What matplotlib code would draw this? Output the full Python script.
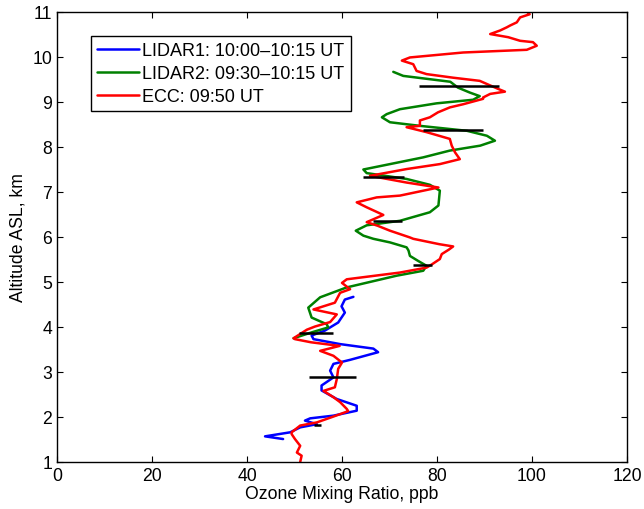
import matplotlib
matplotlib.use('Agg')
import matplotlib.pyplot as plt

plt.rcParams['font.family'] = ['Liberation Sans', 'DejaVu Sans']
plt.rcParams['font.size'] = 12.7

# ECC ozonesonde profile (altitude km, ozone ppb)
ecc_alt = [1.00, 1.14, 1.21, 1.36, 1.51, 1.62, 1.66, 1.81, 1.88, 2.01, 2.13, 2.18,
           2.33, 2.44, 2.58, 2.66, 2.84, 3.07, 3.21, 3.36, 3.47, 3.58, 3.66, 3.73,
           3.75, 3.94, 4.01, 4.11, 4.28, 4.39, 4.54, 4.76, 4.84, 4.98, 5.06, 5.21,
           5.32, 5.39, 5.51, 5.62, 5.72, 5.79, 5.84, 5.96, 5.99, 6.14, 6.25, 6.33,
           6.49, 6.66, 6.77, 6.88, 6.92, 7.10, 7.21, 7.36, 7.51, 7.62, 7.73, 7.88,
           8.03, 8.18, 8.33, 8.44, 8.47, 8.59, 8.66, 8.77, 8.88, 8.95, 9.07, 9.10,
           9.18, 9.23, 9.29, 9.40, 9.47, 9.54, 9.62, 9.69, 9.84, 9.92, 9.99, 10.10,
           10.16, 10.25, 10.33, 10.36, 10.44, 10.51, 10.59, 10.66, 10.70, 10.77,
           10.88, 10.95, 11.00]
ecc_o3 = [51.2, 51.5, 50.5, 51.2, 50.1, 49.4, 49.4, 51.2, 54.7, 58.2, 61.3, 61.0,
          59.6, 58.2, 56.1, 58.5, 58.9, 59.2, 60.0, 58.2, 55.4, 59.5, 53.5, 50.1,
          49.8, 52.6, 54.3, 57.5, 58.9, 54.0, 58.5, 59.6, 61.7, 60.0, 61.0, 72.2,
          77.8, 78.9, 80.6, 81.0, 82.5, 83.4, 80.5, 75.0, 74.3, 70.1, 67.5, 65.2,
          68.7, 65.2, 63.1, 67.3, 72.2, 80.3, 73.6, 65.9, 73.6, 80.6, 84.8, 83.8,
          83.1, 82.7, 77.8, 73.6, 76.4, 76.4, 78.5, 80.2, 82.7, 85.5, 89.7, 89.7,
          91.2, 94.3, 92.9, 90.5, 89.0, 83.4, 77.8, 75.7, 75.0, 72.6, 74.3, 85.5,
          98.9, 101.0, 100.2, 97.5, 95.0, 91.2, 93.3, 94.7, 95.4, 96.8,
          97.5, 99.5, 99.0]

# LIDAR2 profile
l2_alt = [3.75, 3.89, 3.99, 4.06, 4.21, 4.43, 4.66, 4.88, 5.14, 5.25, 5.36, 5.47,
          5.58, 5.70, 5.77, 5.88, 5.96, 6.03, 6.14, 6.26, 6.36, 6.55, 6.70, 7.03,
          7.16, 7.29, 7.42, 7.50, 7.62, 7.77, 7.92, 8.03, 8.14, 8.25, 8.36, 8.47,
          8.55, 8.66, 8.73, 8.84, 8.97, 9.05, 9.13, 9.21, 9.32, 9.45, 9.58, 9.67]
l2_o3 = [49.8, 53.9, 57.1, 56.8, 53.6, 52.9, 55.4, 61.0, 71.5, 77.1, 77.8, 76.0,
         74.3, 74.0, 73.6, 70.1, 66.6, 64.5, 62.9, 65.2, 72.2, 78.5, 80.3, 80.6,
         78.5, 73.6, 65.2, 64.5, 70.1, 77.1, 82.7, 89.1, 92.2, 90.5, 86.3, 76.4,
         70.1, 68.4, 69.4, 72.2, 79.9, 87.6, 89.0, 86.9, 84.4, 82.8, 72.9, 70.8]

# LIDAR1 profile
l1_alt = [1.51, 1.57, 1.66, 1.77, 1.84, 1.92, 1.97, 2.03, 2.14, 2.25, 2.40, 2.59,
          2.70, 2.88, 3.03, 3.18, 3.27, 3.44, 3.52, 3.62, 3.73, 3.81, 3.92, 4.10,
          4.32, 4.46, 4.61, 4.67]
l1_o3 = [47.6, 43.8, 49.1, 51.2, 54.7, 52.2, 53.3, 58.2, 63.1, 63.1, 58.9, 55.7,
         55.7, 58.2, 57.5, 58.2, 61.7, 67.6, 66.6, 59.6, 54.0, 53.6, 56.4, 59.2,
         60.6, 59.9, 60.6, 62.4]

# horizontal bars (altitude, low, high)
bar_alt = [1.83, 2.88, 3.86, 5.38, 6.36, 7.33, 8.38, 9.36]
bar_lo = [54.0, 53.1, 51.0, 75.0, 66.5, 64.4, 77.1, 76.3]
bar_hi = [55.6, 62.9, 58.0, 79.0, 72.6, 73.1, 89.6, 93.1]

fig = plt.figure(figsize=(6.44, 5.10), dpi=100)
ax = fig.add_axes([57 / 644, 1 - 463 / 510, 570 / 644, 450 / 510])

lw = 1.8
style = dict(lw=lw, solid_joinstyle='round', solid_capstyle='round')
ax.plot(l1_o3, l1_alt, color=(0, 0, 1), label='LIDAR1: 10:00\u201310:15 UT', **style)
ax.plot(l2_o3, l2_alt, color=(0, 0.5, 0), label='LIDAR2: 09:30\u201310:15 UT', **style)
ax.plot(ecc_o3, ecc_alt, color=(1, 0, 0), label='ECC: 09:50 UT', **style)
ax.hlines(bar_alt, bar_lo, bar_hi, color='black', lw=lw)

ax.set_xlim(0, 120)
ax.set_ylim(1, 11)
ax.set_xticks(range(0, 121, 20))
ax.set_yticks(range(1, 12))
ax.tick_params(direction='in', top=True, right=True, length=4, width=0.8)
for s in ax.spines.values():
    s.set_linewidth(1.0)
ax.set_xlabel('Ozone Mixing Ratio, ppb', labelpad=1)
ax.set_ylabel('Altitude ASL, km', labelpad=4)

leg = ax.legend(loc='upper left', bbox_to_anchor=(91 / 644, 1 - 37 / 510),
                bbox_transform=fig.transFigure, borderaxespad=0,
                fancybox=False, edgecolor='black', framealpha=1,
                handlelength=2.3, handletextpad=0.2, labelspacing=0.32,
                borderpad=0.35, prop={'size': 13})
leg.get_frame().set_linewidth(1.0)

fig.savefig('out.png', dpi=100)
